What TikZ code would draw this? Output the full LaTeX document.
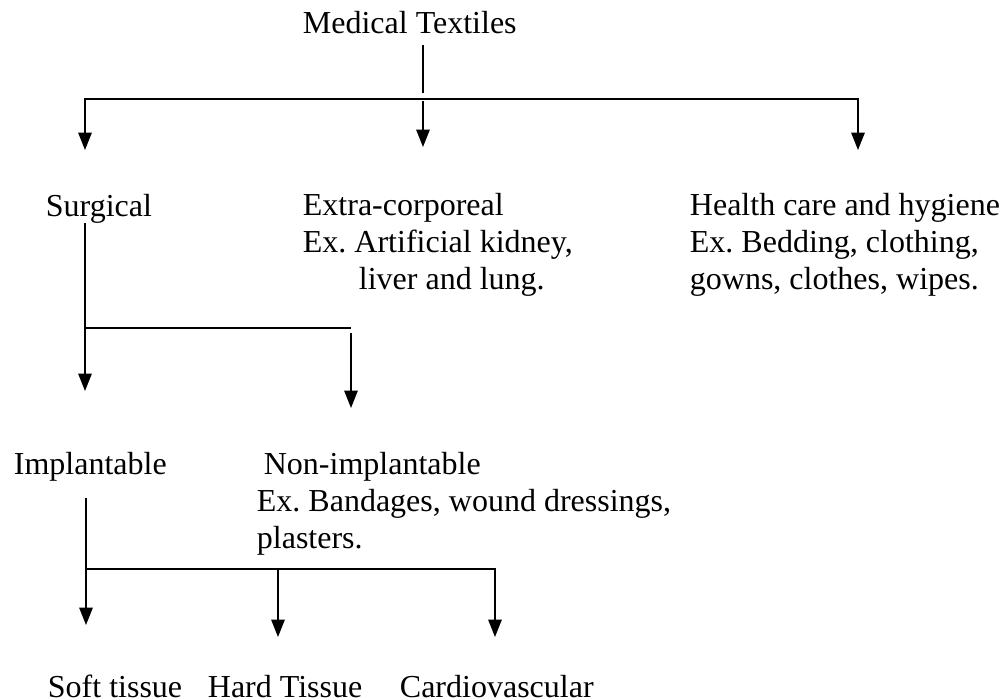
\documentclass[tikz,border=0pt]{standalone}
\usepackage{fontspec}
\setmainfont{Liberation Serif}
\usetikzlibrary{arrows.meta}

\begin{document}
\frenchspacing
\begin{tikzpicture}[x=0.375pt,y=-0.375pt,
    lbl/.style={inner sep=0pt,anchor=base west,align=left,
        font=\fontsize{12}{13.8}\selectfont},
    tip/.style={-{Triangle[length=6.5pt,width=5pt]}},
    tips/.style={{Triangle[length=6.5pt,width=5pt]}-{Triangle[length=6.5pt,width=5pt]}},
    line width=0.7pt]
    \useasboundingbox (0,0) rectangle (1000,700);

    % labels (base = last line)
    \node[lbl] (med) at (302,33) {Medical Textiles};
    \node[lbl] (surg) at (45,216) {Surgical};
    \node[lbl] (extra) at (302,289) {Extra-corporeal\\Ex. Artificial kidney,\\\hspace*{21pt}liver and lung.};
    \node[lbl] (health) at (689,289) {Health care and hygiene\\Ex. Bedding, clothing,\\gowns, clothes, wipes.};
    \node[lbl] (impl) at (13,474) {Implantable};
    \node[lbl] (nonimpl) at (256,548) {\hspace*{2.6pt}Non-implantable\\Ex. Bandages, wound dressings,\\plasters.};
    \node[lbl] (soft) at (47,697) {Soft tissue};
    \node[lbl] (hard) at (207,697) {Hard Tissue};
    \node[lbl] (cardio) at (399,697) {Cardiovascular};

    % first level
    \coordinate (m0) at (423,45);
    \coordinate (m1) at (423,93);
    \coordinate (b1) at (85,99);
    \coordinate (b2) at (858,99);
    \draw (m0) -- (m1);
    \draw[tips] (b1 |- 0,150) -- (b1) -- (b2) -- (b2 |- 0,150);
    \draw[tip] (423,101) -- (423,147);

    % surgical
    \coordinate (s0) at (85,223);
    \coordinate (s1) at (85,328);
    \coordinate (s2) at (351,328);
    \draw[tip] (s0) -- (85,391);
    \draw (s1) -- (s2);
    \draw[tip] (351,333) -- (351,408);

    % implantable
    \coordinate (i0) at (86,498);
    \coordinate (i1) at (86,569);
    \coordinate (i2) at (495,569);
    \draw[tip] (i0) -- (86,625);
    \draw[tip] (i1) -- (i2) -- (495,637);
    \draw[tip] (278,569) -- (278,637);
\end{tikzpicture}
\end{document}
